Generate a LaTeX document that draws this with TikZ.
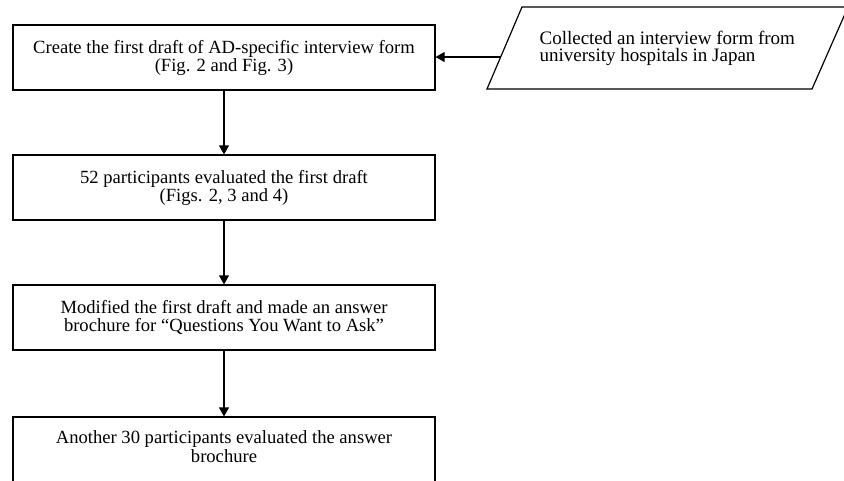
\documentclass[tikz,border=0pt]{standalone}
\usepackage{fontspec}
\setmainfont{Liberation Serif}
\usetikzlibrary{arrows.meta,calc}
\begin{document}
\begin{tikzpicture}[x=1pt,y=-1pt,
  line width=1.2pt,
  box/.style={draw, rectangle, minimum width=422pt, minimum height=65pt, inner sep=0pt,
    align=center, font=\fontsize{18.6}{18}\selectfont},
  txt/.style={align=center, inner sep=0pt, font=\fontsize{18.6}{18.4}\selectfont},
  ltxt/.style={align=left, inner sep=0pt, font=\fontsize{19}{17.6}\selectfont},
  arr/.style={-{Triangle[length=9pt,width=10pt]}}]
\clip (0,0) rectangle (844,480);
\useasboundingbox (0,0) rectangle (844,480);
% boxes
\node[box] (b1) at (224,57.5) {Create the first draft of AD-specific interview form\\(Fig. 2 and Fig. 3)};
\node[box] (b2) at (224,187.5) {52 participants evaluated the first draft\\(Figs. 2, 3 and 4)};
\node[box] (b3) at (224,317.5) {Modified the first draft and made an answer\\brochure for “Questions You Want to Ask”};
\node[box, minimum height=72pt] (b4) at (224,453) {};
\node[txt] (t4) at (224,446.5) {Another 30 participants evaluated the answer\\brochure};
% parallelogram
\coordinate (pa) at (522,7);
\coordinate (pb) at (848,7);
\coordinate (pc) at (812,89);
\coordinate (pd) at (487,89);
\draw (pa) -- (pb) -- (pc) -- (pd) -- cycle;
\coordinate (p) at ($(pa)!0.61!(pd)$);
\node[ltxt, anchor=west] (tp) at (539,48.5) {Collected an interview form from\\university hospitals in Japan};
% connectors
\draw[arr] (p) -- (p -| b1.east);
\draw[arr] (b1.south) -- (b2.north);
\draw[arr] (b2.south) -- (b3.north);
\draw[arr] (b3.south) -- (b4.north);
\end{tikzpicture}
\end{document}
